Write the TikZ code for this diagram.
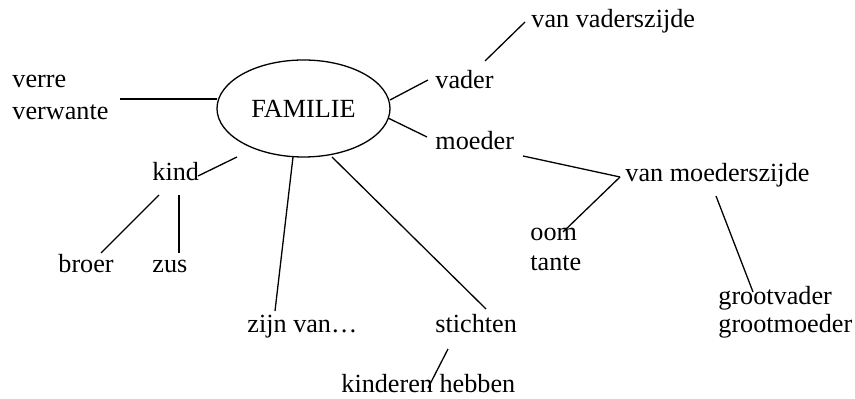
\documentclass[tikz,border=0pt]{standalone}
\usepackage{fontspec}
\setmainfont{Liberation Serif}
\usetikzlibrary{shapes.geometric}

\begin{document}
\begin{tikzpicture}[x=0.5pt,y=-0.5pt,
    lbl/.style={anchor=base west, inner sep=0pt, align=left,
      font=\fontsize{13.1}{14.5}\selectfont},
    lnk/.style={line width=0.65pt}]
  \useasboundingbox (0,0) rectangle (855,399);

  % the centre
  \node[draw, ellipse, line width=0.65pt, minimum width=86.5pt, minimum height=48.5pt,
    inner sep=0pt, font=\fontsize{13.1}{14.5}\selectfont] (fam) at (303.5,108.5) {FAMILIE};

  % the words round it (two-line ones sit on their last line)
  \node[lbl, font=\fontsize{13.1}{16}\selectfont] (verre) at (12,120) {verre\\verwante};
  \node[lbl] (vader) at (435,89) {vader};
  \node[lbl] (vzijde) at (531,28) {van vaderszijde};
  \node[lbl] (moeder) at (435,150) {moeder};
  \node[lbl] (mzijde) at (625,182) {van moederszijde};
  \node[lbl, font=\fontsize{13.1}{15}\selectfont] (oom) at (530,271) {oom\\tante};
  \node[lbl, font=\fontsize{13.1}{14}\selectfont] (groot) at (718,333) {grootvader\\grootmoeder};
  \node[lbl] (kind) at (152,181) {kind};
  \node[lbl] (broer) at (58,273) {broer};
  \node[lbl] (zus) at (152,273) {zus};
  \node[lbl] (zijn) at (247,333) {zijn van…};
  \node[lbl] (stichten) at (435,333) {stichten};
  \node[lbl] (kinderen) at (341,393) {kinderen hebben};

  % line ends
  \coordinate (verreA) at (120,99);   \coordinate (verreB) at (217,99);
  \coordinate (vaderA) at (390,100);  \coordinate (vaderB) at (428,80);
  \coordinate (vzA) at (485,61);      \coordinate (vzB) at (525,22);
  \coordinate (moederA) at (388,118); \coordinate (moederB) at (427,137);
  \coordinate (mzA) at (523,156);     \coordinate (mzB) at (620,177);
  \coordinate (oomB) at (563,232);
  \coordinate (grootA) at (716,196);  \coordinate (grootB) at (753,292);
  \coordinate (stA) at (332,157);     \coordinate (stB) at (486,309);
  \coordinate (kiA) at (448,349);     \coordinate (kiB) at (428,388);
  \coordinate (zijnA) at (293,157);   \coordinate (zijnB) at (275,311);
  \coordinate (kindA) at (237,157);   \coordinate (kindB) at (198,176);
  \coordinate (broerA) at (159,195);  \coordinate (broerB) at (101,253);
  \coordinate (zusA) at (179,195);    \coordinate (zusB) at (179,253);

  \foreach \a/\b in {verreA/verreB, vaderA/vaderB, vzA/vzB, moederA/moederB,
      mzA/mzB, mzB/oomB, grootA/grootB, stA/stB, kiA/kiB, zijnA/zijnB,
      kindA/kindB, broerA/broerB, zusA/zusB}
    \draw[lnk] (\a) -- (\b);
\end{tikzpicture}
\end{document}
